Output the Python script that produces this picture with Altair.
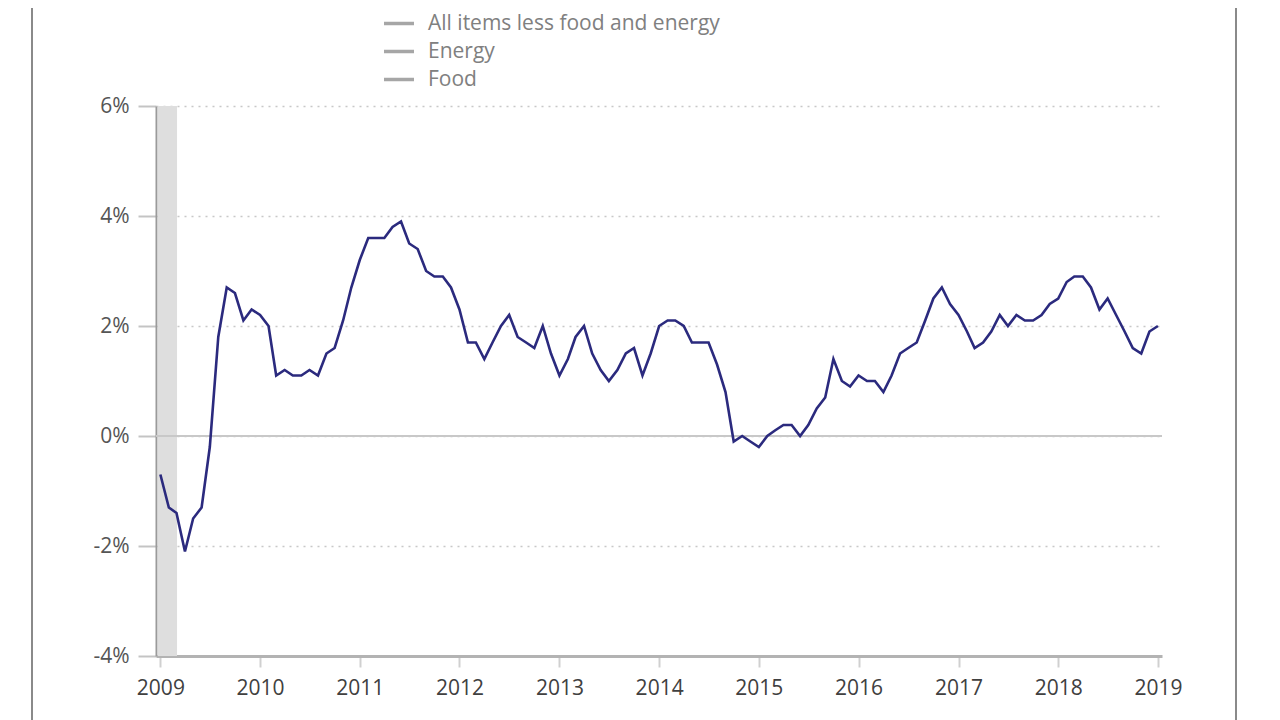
import altair as alt
import pandas as pd

# ---- data ----
year_ticks = [2009, 2010, 2011, 2012, 2013, 2014, 2015, 2016, 2017, 2018, 2019]
y_ticks = [-4, -2, 0, 2, 4, 6]

# monthly 12-month % change, first point sits on the "2009" tick
cpi_values = [
    -0.7, -1.3, -1.4, -2.1, -1.5, -1.3, -0.2, 1.8, 2.7,
    2.6, 2.1, 2.3, 2.2, 2.0, 1.1, 1.2, 1.1, 1.1, 1.2, 1.1, 1.5,
    1.6, 2.1, 2.7, 3.2, 3.6, 3.6, 3.6, 3.8, 3.9, 3.5, 3.4, 3.0,
    2.9, 2.9, 2.7, 2.3, 1.7, 1.7, 1.4, 1.7, 2.0, 2.2, 1.8, 1.7,
    1.6, 2.0, 1.5, 1.1, 1.4, 1.8, 2.0, 1.5, 1.2, 1.0, 1.2, 1.5,
    1.6, 1.1, 1.5, 2.0, 2.1, 2.1, 2.0, 1.7, 1.7, 1.7, 1.3, 0.8,
    -0.1, 0.0, -0.1, -0.2, 0.0, 0.1, 0.2, 0.2, 0.0, 0.2, 0.5, 0.7,
    1.4, 1.0, 0.9, 1.1, 1.0, 1.0, 0.8, 1.1, 1.5, 1.6, 1.7, 2.1,
    2.5, 2.7, 2.4, 2.2, 1.9, 1.6, 1.7, 1.9, 2.2, 2.0, 2.2, 2.1,
    2.1, 2.2, 2.4, 2.5, 2.8, 2.9, 2.9, 2.7, 2.3, 2.5, 2.2, 1.9,
    1.6, 1.5, 1.9, 2.0,
]
months = [f"{2009 + i // 12}-{i % 12 + 1:02d}-01" for i in range(len(cpi_values))]

legend_series = ["All items less food and energy", "Energy", "Food"]
recession_start = ["2008-12-22"]
recession_end = ["2009-03-03"]

line_df = pd.DataFrame({"date": months, "value": cpi_values})
legend_df = pd.DataFrame({"series": legend_series,
                          "date": [months[0]] * 3, "value": [0.0] * 3})
shade_df = pd.DataFrame({"start": recession_start, "end": recession_end})
zero_df = pd.DataFrame({"y": [0]})

FONT = "Open Sans"

x_scale = alt.Scale(type="utc",
                    domain=[alt.DateTime(year=2008, month=12, date=16, utc=True),
                            alt.DateTime(year=2019, month=1, date=16, utc=True)])
x_axis = alt.Axis(
    title=None,
    values=[alt.DateTime(year=y, month=1, date=1, utc=True) for y in year_ticks],
    format="%Y", grid=False,
    domainColor="#b3b3b3", domainWidth=3,
    tickColor="#d0d0d0", tickWidth=2, tickSize=11,
    labelPadding=10, labelFont=FONT, labelFontSize=21, labelColor="#404040",
    labelFlush=False, labelOverlap=False, labelBound=False,
)
y_scale = alt.Scale(domain=[-4, 6], nice=False, zero=False)
y_axis = alt.Axis(
    title=None, values=y_ticks, labelExpr="datum.value + '%'",
    grid=True, gridColor="#c8c8c8", gridDash=[2, 5], gridWidth=1.5,
    domainColor="#9a9a9a", domainWidth=2,
    tickColor="#c4c4c4", tickWidth=2, tickSize=18,
    labelPadding=9, labelFont=FONT, labelFontSize=21, labelColor="#555555",
)

shade = alt.Chart(shade_df).mark_rect(color="#dedede").encode(
    x=alt.X("start:T", scale=x_scale, axis=x_axis),
    x2="end:T",
    y=alt.value(0), y2=alt.value(550),
)

zero = alt.Chart(zero_df).mark_rule(color="#c8c8c8", strokeWidth=2).encode(
    y=alt.Y("y:Q", scale=y_scale, axis=y_axis),
)

line = alt.Chart(line_df).mark_line(color="#2b2a7e", strokeWidth=2.6).encode(
    x=alt.X("date:T", scale=x_scale, axis=x_axis),
    y=alt.Y("value:Q", scale=y_scale, axis=y_axis),
)

legend_layer = alt.Chart(legend_df).mark_line(strokeWidth=3.5).encode(
    x=alt.X("date:T", scale=x_scale, axis=x_axis),
    y=alt.Y("value:Q", scale=y_scale, axis=y_axis),
    color=alt.Color(
        "series:N",
        scale=alt.Scale(domain=legend_series, range=["#a6a6a6"] * 3),
        legend=alt.Legend(
            title=None, orient="none", legendX=226, legendY=-93,
            padding=0, symbolType="stroke", symbolSize=900, symbolStrokeWidth=3.5,
            labelFont=FONT, labelFontSize=21, labelColor="#808080",
            labelOffset=12, labelLimit=0, clipHeight=21, rowPadding=6,
        ),
    ),
)

frame_left = alt.Chart(zero_df).mark_rule(color="#8a8a8a", strokeWidth=2).encode(
    x=alt.value(-124), y=alt.value(-120), y2=alt.value(640),
)
frame_right = alt.Chart(zero_df).mark_rule(color="#8a8a8a", strokeWidth=2).encode(
    x=alt.value(1080), y=alt.value(-120), y2=alt.value(640),
)

chart = alt.layer(shade, zero, line, legend_layer, frame_left, frame_right).properties(
    width=1006, height=550,
    padding={"left": 148, "top": 98, "right": 110, "bottom": 64},
    autosize=alt.AutoSizeParams(type="none"),
    background="white",
).configure_view(stroke=None)

chart.save("out.html", embed_options={"renderer": "svg", "actions": False})
